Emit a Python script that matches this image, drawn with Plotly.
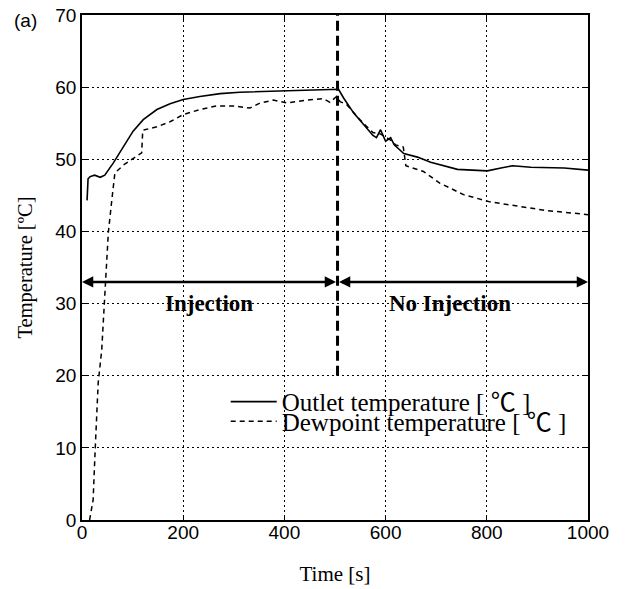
import plotly.graph_objects as go

# ---- data ----
outlet_t = [10, 12, 16, 25, 36, 45, 62, 82, 101, 121, 148, 174, 200, 233, 273, 312,
            365, 405, 457, 500, 507, 517, 537, 557, 575, 582, 590, 600, 610, 617, 636,
            663, 689, 742, 801, 828, 851, 887, 953, 1000]
outlet_v = [44.3, 47.3, 47.6, 47.8, 47.5, 47.8, 49.5, 51.8, 53.9, 55.5, 56.9, 57.7,
            58.3, 58.7, 59.1, 59.3, 59.4, 59.5, 59.6, 59.7, 59.7, 58.5, 56.4, 54.8,
            53.3, 53.0, 54.1, 52.5, 53.0, 52.0, 50.8, 50.3, 49.6, 48.6, 48.4, 48.8,
            49.1, 48.9, 48.8, 48.5]

dew_t = [15, 22, 26, 32, 39, 45, 52, 59, 65, 82, 108, 118, 120, 124, 148, 174, 200,
         233, 266, 299, 332, 352, 378, 405, 444, 477, 490, 503, 510, 523, 549, 575,
         590, 609, 620, 635, 640, 675, 707, 754, 806, 859, 918, 991, 1000]
dew_v = [0, 2.8, 9.7, 19, 23.6, 31.9, 39.8, 44.4, 48.1, 49.2, 50.5, 50.9, 54.0, 54.1,
         54.5, 55.2, 56.2, 56.9, 57.4, 57.4, 57.1, 57.8, 58.2, 57.8, 58.2, 58.4, 57.9,
         58.7, 58.0, 57.6, 55.5, 53.7, 53.5, 52.7, 52.0, 51.7, 49.1, 48.3, 46.7, 45.1,
         44.1, 43.5, 42.9, 42.4, 42.3]

injection_end = 505
marker_line_y = [20, 70]
arrow_y = 33
phase_labels = ["Injection", "No Injection"]
phase_label_x = [250, 727]
phase_label_y = 30

x_ticks = [0, 200, 400, 600, 800, 1000]
y_ticks = [0, 10, 20, 30, 40, 50, 60, 70]

SERIF = "Liberation Serif, Times New Roman, serif"
LEGEND_FONT = "Liberation Serif, Noto Sans CJK JP, serif"
SANS = "Liberation Sans, Arial, sans-serif"

fig = go.Figure()
fig.add_trace(go.Scatter(x=outlet_t, y=outlet_v, mode="lines",
                         name="Outlet temperature [ \u2103 ]",
                         line=dict(color="black", width=1.6), legend="legend"))
fig.add_trace(go.Scatter(x=dew_t, y=dew_v, mode="lines",
                         name="Dewpoint temperature [ \u2103 ]",
                         line=dict(color="black", width=1.5, dash="5px,4px"),
                         legend="legend2"))
fig.add_trace(go.Scatter(x=[injection_end, injection_end], y=marker_line_y, mode="lines",
                         line=dict(color="black", width=3, dash="10px,5px"),
                         showlegend=False, hoverinfo="skip"))

# double arrows
for x0, x1 in [(injection_end, x_ticks[0]), (injection_end, x_ticks[-1])]:
    fig.add_annotation(x=x1, y=arrow_y, ax=x0, ay=arrow_y, xref="x", yref="y",
                       axref="x", ayref="y", text="", showarrow=True,
                       arrowhead=2, startarrowhead=2, arrowside="end+start",
                       arrowwidth=2.5, arrowsize=0.9, startarrowsize=0.9,
                       arrowcolor="black")

for lbl, lx in zip(phase_labels, phase_label_x):
    fig.add_annotation(x=lx, y=phase_label_y, text="<b>" + lbl + "</b>", showarrow=False,
                       xref="x", yref="y", font=dict(family=SERIF, size=23, color="black"))

fig.add_annotation(text="(a)", x=-0.1375, y=1.0139, xref="paper", yref="paper", showarrow=False,
                   xanchor="left", yanchor="top",
                   font=dict(family=SANS, size=19, color="black"))

axis_common = dict(showline=True, linecolor="black", linewidth=1.5, mirror="ticks",
                   ticks="inside", ticklen=5, tickcolor="black", tickwidth=1,
                   showgrid=True, gridcolor="black", gridwidth=1, griddash="2px,3px",
                   zeroline=False, automargin=False, ticklabeloverflow="allow",
                   tickfont=dict(family=SANS, size=19, color="black"))

fig.update_xaxes(range=[0, 1000], tickvals=x_ticks, ticklabelstandoff=-6,
                 title=dict(text="Time [s]", font=dict(family=SERIF, size=21, color="black"),
                            standoff=25),
                 **axis_common)
fig.update_yaxes(range=[0, 70], tickvals=y_ticks,
                 title=dict(text="Temperature [ºC]", font=dict(family=SERIF, size=20.5, color="black"),
                            standoff=17),
                 **axis_common)

legend_common = dict(bgcolor="rgba(0,0,0,0)", borderwidth=0, xanchor="left", yanchor="middle",
                     itemwidth=46, font=dict(family=LEGEND_FONT, size=25, color="black"))
fig.update_layout(
    width=620, height=581,
    margin=dict(l=74, r=40, t=7, b=69),
    paper_bgcolor="white", plot_bgcolor="white",
    showlegend=True,
    legend=dict(x=0.284, y=0.234, **legend_common),
    legend2=dict(x=0.284, y=0.195, **legend_common),
)

fig.write_html("out.html")
